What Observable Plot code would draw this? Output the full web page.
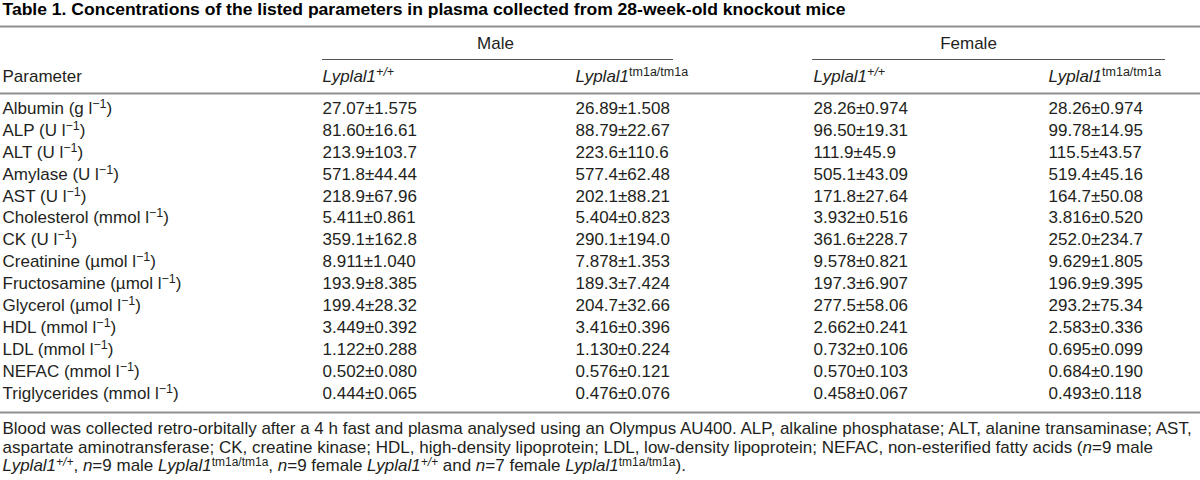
<!DOCTYPE html>
<html>
<head>
<meta charset="utf-8">
<script src="https://cdn.jsdelivr.net/npm/d3@7"></script>
<script src="https://cdn.jsdelivr.net/npm/@observablehq/plot@0.6"></script>
<style>
  html, body { margin: 0; padding: 0; background: #fff; }
  #chart svg { display: block; }
</style>
</head>
<body>
<div id="chart"></div>
<script>
// ---------------- DATA ----------------
// Markup: *italic*, ^{superscript}, ^i{italic superscript}
const title = "Table 1. Concentrations of the listed parameters in plasma collected from 28-week-old knockout mice";
const groups = ["Male", "Female"];
const genotypes = ["*Lyplal1*^i{+/+}", "*Lyplal1*^{tm1a/tm1a}"];
const firstHeader = "Parameter";
const parameters = [
  "Albumin (g l^{−1})",
  "ALP (U l^{−1})",
  "ALT (U l^{−1})",
  "Amylase (U l^{−1})",
  "AST (U l^{−1})",
  "Cholesterol (mmol l^{−1})",
  "CK (U l^{−1})",
  "Creatinine (µmol l^{−1})",
  "Fructosamine (µmol l^{−1})",
  "Glycerol (µmol l^{−1})",
  "HDL (mmol l^{−1})",
  "LDL (mmol l^{−1})",
  "NEFAC (mmol l^{−1})",
  "Triglycerides (mmol l^{−1})"
];
const maleWT = ["27.07±1.575","81.60±16.61","213.9±103.7","571.8±44.44","218.9±67.96","5.411±0.861","359.1±162.8","8.911±1.040","193.9±8.385","199.4±28.32","3.449±0.392","1.122±0.288","0.502±0.080","0.444±0.065"];
const maleKO = ["26.89±1.508","88.79±22.67","223.6±110.6","577.4±62.48","202.1±88.21","5.404±0.823","290.1±194.0","7.878±1.353","189.3±7.424","204.7±32.66","3.416±0.396","1.130±0.224","0.576±0.121","0.476±0.076"];
const femaleWT = ["28.26±0.974","96.50±19.31","111.9±45.9","505.1±43.09","171.8±27.64","3.932±0.516","361.6±228.7","9.578±0.821","197.3±6.907","277.5±58.06","2.662±0.241","0.732±0.106","0.570±0.103","0.458±0.067"];
const femaleKO = ["28.26±0.974","99.78±14.95","115.5±43.57","519.4±45.16","164.7±50.08","3.816±0.520","252.0±234.7","9.629±1.805","196.9±9.395","293.2±75.34","2.583±0.336","0.695±0.099","0.684±0.190","0.493±0.118"];
const footnote = [
  "Blood was collected retro-orbitally after a 4 h fast and plasma analysed using an Olympus AU400. ALP, alkaline phosphatase; ALT, alanine transaminase; AST,",
  "aspartate aminotransferase; CK, creatine kinase; HDL, high-density lipoprotein; LDL, low-density lipoprotein; NEFAC, non-esterified fatty acids (*n*=9 male",
  "*Lyplal1*^i{+/+}, *n*=9 male *Lyplal1*^{tm1a/tm1a}, *n*=9 female *Lyplal1*^i{+/+} and *n*=7 female *Lyplal1*^{tm1a/tm1a})."
];

// ---------------- LAYOUT (not data) ----------------
const W = 1200, H = 480;
const FONT = "'Liberation Sans', Arial, Helvetica, sans-serif";
const INK = "#231f20";
const colX = [2, 322, 575, 813, 1048];          // left edges of the five columns
const groupSpan = [[322, 673], [812, 1165]];    // rules under Male / Female
const groupLabelX = [495, 968];
const L = {
  titleY: 9, titleWidth: 843,
  topRule: 26, groupY: 43, groupRule: 59, headY: 76, headRule: 93,
  row0: 108, pitch: 21.9, bottomRule: 412,
  foot0: 428, footPitch: 18.6
};
const rowY = i => L.row0 + i * L.pitch;

// ---------------- TABLES FOR MARKS ----------------
const columns = [parameters, maleWT, maleKO, femaleWT, femaleKO];
const cells = [];
columns.forEach((col, c) => col.forEach((t, i) => cells.push({x: colX[c], y: rowY(i), t})));

const headCells = [{x: colX[0], y: L.headY, t: firstHeader}];
groups.forEach((g, gi) => genotypes.forEach((gt, k) => headCells.push({x: colX[1 + gi * 2 + k], y: L.headY, t: gt})));

const groupCells = groups.map((g, gi) => ({x: groupLabelX[gi], y: L.groupY, t: g, x1: groupSpan[gi][0], x2: groupSpan[gi][1]}));

const footCells = footnote.map((t, i) => ({x: colX[0], y: L.foot0 + i * L.footPitch, t}));

const plot = Plot.plot({
  width: W,
  height: H,
  margin: 0,
  style: {fontFamily: FONT, fontSize: "17px", color: INK, background: "#fff"},
  x: {type: "linear", domain: [0, W], range: [0, W], axis: null},
  y: {type: "linear", domain: [0, H], range: [0, H], axis: null},
  marks: [
    // horizontal rules of the table
    Plot.ruleY([L.topRule, L.headRule, L.bottomRule], {x1: 0, x2: W, stroke: "#8f8f8f", strokeWidth: 1.8}),
    Plot.ruleY(groupCells, {y: L.groupRule, x1: "x1", x2: "x2", stroke: "#555", strokeWidth: 1}),
    // title
    Plot.text([{x: colX[0], y: L.titleY, t: title}], {x: "x", y: "y", text: "t", textAnchor: "start", fontWeight: "bold", fontSize: 17, fill: "#000"}),
    // group headers
    Plot.text(groupCells, {x: "x", y: "y", text: "t", textAnchor: "middle", fill: INK}),
    // column headers
    Plot.text(headCells, {x: "x", y: "y", text: "t", textAnchor: "start", fill: INK}),
    // body
    Plot.text(cells, {x: "x", y: "y", text: "t", textAnchor: "start", fill: INK}),
    // footnote
    Plot.text(footCells, {x: "x", y: "y", text: "t", textAnchor: "start", fill: INK, className: "foot"})
  ]
});

// ---------------- rich text (italic / superscript) ----------------
const SVGNS = "http://www.w3.org/2000/svg";
function parseRich(s) {
  const re = /\*([^*]+)\*|\^(i?)\{([^}]*)\}|([^*^]+)/g;
  const segs = []; let m;
  while ((m = re.exec(s))) {
    if (m[1] != null) segs.push({t: m[1], it: true});
    else if (m[3] != null) segs.push({t: m[3], sup: true, it: m[2] === "i"});
    else segs.push({t: m[4]});
  }
  return segs;
}
const footSet = new Set(footnote);
plot.querySelectorAll("text").forEach(el => {
  const s = el.textContent;
  if (s === title) {
    el.setAttribute("textLength", L.titleWidth);
    el.setAttribute("lengthAdjust", "spacingAndGlyphs");
    return;
  }
  if (!/[*^]/.test(s)) return;
  const isFoot = footSet.has(s);
  const raise = isFoot ? 5 : 6;
  const supSize = isFoot ? "12px" : "12.5px";
  el.textContent = "";
  let raised = false;
  for (const seg of parseRich(s)) {
    const ts = document.createElementNS(SVGNS, "tspan");
    ts.textContent = seg.t;
    if (seg.it) ts.setAttribute("font-style", "italic");
    if (seg.sup) {
      ts.setAttribute("font-size", supSize);
      if (!raised) { ts.setAttribute("dy", -raise); raised = true; }
    } else if (raised) {
      ts.setAttribute("dy", raise); raised = false;
    }
    el.appendChild(ts);
  }
});

document.getElementById("chart").appendChild(plot);
</script>
</body>
</html>
